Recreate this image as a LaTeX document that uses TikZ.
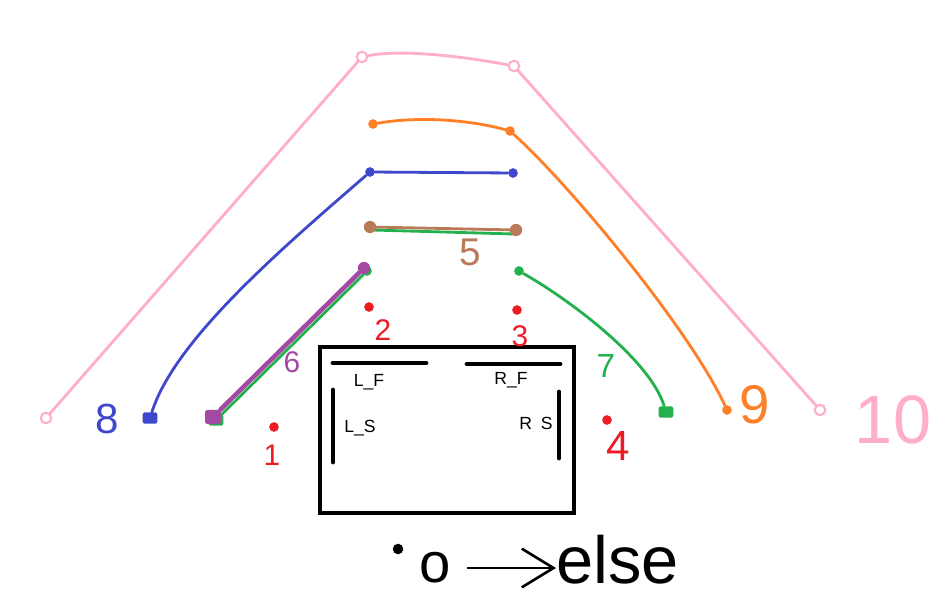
\documentclass[tikz,border=0pt]{standalone}
\usepackage{fontspec}
\setmainfont{Liberation Sans}
\usetikzlibrary{arrows.meta}
\definecolor{pinkc}{RGB}{255,174,201}
\definecolor{orangec}{RGB}{255,127,39}
\definecolor{bluec}{RGB}{63,72,204}
\definecolor{brownc}{RGB}{185,122,87}
\definecolor{greenc}{RGB}{34,177,76}
\definecolor{redc}{RGB}{237,28,36}
\definecolor{purplec}{RGB}{163,73,164}
\tikzset{
  wire/.style={line width=1.6pt,line cap=round,line join=round},
  bar/.style={line width=2.8pt,line cap=round},
  blob/.style={circle,fill=#1,inner sep=0pt,minimum size=5.5pt},
  sqr/.style={rectangle,fill=#1,inner sep=0pt,minimum width=8.5pt,minimum height=6.5pt,rounded corners=1pt},
  ring/.style={circle,draw=#1,line width=1.2pt,inner sep=0pt,minimum size=6pt},
  lab/.style 2 args={text=#1,font=\fontsize{#2}{#2}\selectfont,inner sep=0pt},
  tag/.style={font=\fontsize{10}{12}\selectfont,inner sep=0pt},
}
\begin{document}
\begin{tikzpicture}[x=0.02cm,y=-0.02cm]
  \useasboundingbox (0,0) rectangle (950,611);
  % box with the four bars
  \draw[line width=2pt] (320,347) rectangle (574,513);
  \draw[bar] (333,363) -- (426,363);
  \draw[bar] (467,364) -- (560,364);
  \draw[bar] (333,390) -- (333,462);
  \draw[bar] (559,392) -- (559,458);
  \node[tag] (lf) at (369,382) {L\_F};
  \node[tag] (rf) at (511,380) {R\_F};
  \node[tag] (ls) at (360,428) {L\_S};
  \node[tag] (rs) at (536,423) {R\enspace S};
  % red points
  \foreach \n/\x/\y/\lx/\ly/\s in {1/274/427/272/455/17,2/369/307/383/330/17,3/517/310/520/336/17,4/607/420/618/446/24} {
    \node[blob=redc] (r\n) at (\x,\y) {};
    \node[lab={redc}{\s}] (n\n) at (\lx,\ly) {\n};
  }
  % pink
  \node[ring=pinkc] (k1) at (46,418) {};
  \node[ring=pinkc] (k2) at (362,57) {};
  \node[ring=pinkc] (k3) at (514,66) {};
  \node[ring=pinkc] (k4) at (820,410) {};
  \draw[wire,pinkc] (k1) -- (k2) .. controls (395,50) and (450,54) .. (k3) -- (k4);
  \node[lab={pinkc}{39}] (n10) at (893,420) {10};
  % orange
  \node[blob=orangec] (o1) at (373,124) {};
  \node[blob=orangec] (o2) at (510,131) {};
  \node[blob=orangec] (o3) at (727,410) {};
  \draw[wire,orangec] (o1) .. controls (420,116) and (470,120) .. (o2)
    .. controls (570,185) and (690,330) .. (o3);
  \node[lab={orangec}{31}] (n9) at (755,405) {9};
  % blue
  \node[sqr=bluec] (bl1) at (150,418) {};
  \node[blob=bluec] (bl2) at (370,172) {};
  \node[blob=bluec] (bl3) at (513,173) {};
  \draw[wire,bluec] (bl1) .. controls (175,340) and (280,250) .. (bl2) -- (bl3);
  \node[lab={bluec}{24}] (n8) at (107,419) {8};
  % green
  \coordinate (g5) at (372,230);
  \coordinate (g6) at (514,234);
  \draw[wire,greenc] (g5) -- (g6);
  \node[sqr=greenc] (g1) at (216,420) {};
  \node[blob=greenc] (g2) at (367,271) {};
  \draw[wire,greenc] (g1) -- (g2);
  \node[blob=greenc] (g3) at (519,271) {};
  \node[sqr=greenc] (g4) at (666,412) {};
  \draw[wire,greenc] (g3) .. controls (570,300) and (650,360) .. (g4);
  \node[lab={greenc}{19}] (n7) at (606,366) {7};
  % brown
  \node[blob=brownc,minimum size=7pt] (b1) at (370,227) {};
  \node[blob=brownc,minimum size=7pt] (b2) at (516,230) {};
  \draw[wire,brownc] (b1) -- (b2);
  \node[lab={brownc}{22}] (n5) at (470,252) {5};
  % purple
  \node[sqr=purplec,minimum width=9pt,minimum height=8pt] (pu1) at (213,417) {};
  \node[blob=purplec,minimum size=7pt] (pu2) at (364,268) {};
  \draw[purplec,line width=2.6pt,line cap=round] (pu1) -- (pu2);
  \node[lab={purplec}{17}] (n6) at (292,362) {6};
  % legend
  \node[circle,fill=black,inner sep=0pt,minimum size=6pt] (bdot) at (398,549) {};
  \node[lab={black}{32}] (o) at (435,568) {o};
  \node[lab={black}{38},anchor=base west] (else) at (556,583) {else};
  \draw[line width=1.5pt,-{Straight Barb[length=18pt,width=22pt]}] ([xshift=9pt]o.east) -- (o.east -| else.west);
\end{tikzpicture}
\end{document}
